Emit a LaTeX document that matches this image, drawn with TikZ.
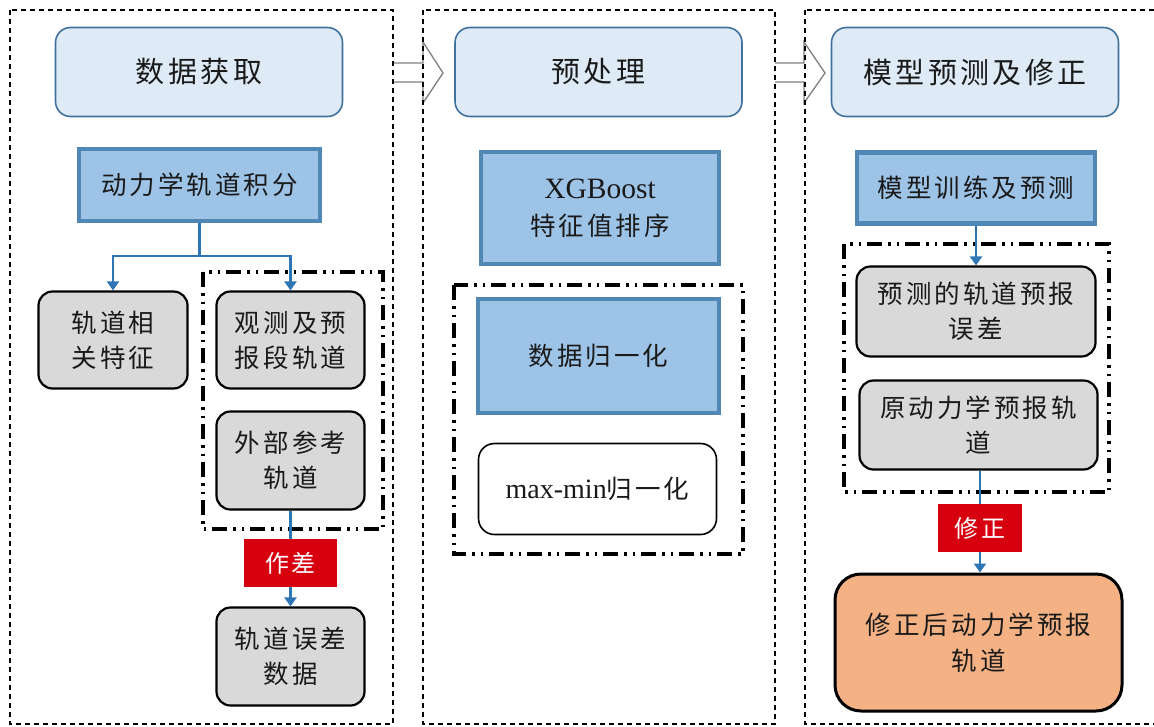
\documentclass[tikz,border=0pt]{standalone}
\usepackage{fontspec}
\newfontfamily\cjk[LetterSpace=12]{Noto Sans CJK SC}
\newfontfamily\latinserif{Liberation Serif}
\usetikzlibrary{arrows.meta}
\definecolor{titlefill}{HTML}{DEEBF7}
\definecolor{titledraw}{HTML}{41719C}
\definecolor{bluefill}{HTML}{9DC3E6}
\definecolor{bluedraw}{HTML}{5087B4}
\definecolor{grayfill}{HTML}{D9D9D9}
\definecolor{redfill}{HTML}{D7000F}
\definecolor{orangefill}{HTML}{F4B183}
\definecolor{arrowblue}{HTML}{2E75B6}
\definecolor{bigarrowcol}{HTML}{808080}
\definecolor{txt}{HTML}{1A1A1A}
\begin{document}
\begin{tikzpicture}[x=1pt,y=-1pt,
  titlebox/.style={draw=titledraw,fill=titlefill,line width=1.6pt,rounded corners=15pt,inner sep=0pt,
    minimum width=287pt,minimum height=89pt,text=txt,font=\fontsize{29}{35}\selectfont\cjk},
  bluebox/.style={draw=bluedraw,fill=bluefill,line width=4.5pt,inner sep=0pt,align=center,text=txt,
    font=\fontsize{25.5}{37}\selectfont\cjk},
  graybox/.style={draw=black,fill=grayfill,line width=2.2pt,rounded corners=14pt,inner sep=0pt,align=center,text=txt,
    font=\fontsize{25.5}{35}\selectfont\cjk},
  whitebox/.style={draw=black,fill=white,line width=1.6pt,rounded corners=16pt,inner sep=0pt,align=center,text=txt,
    font=\fontsize{28}{35}\selectfont\latinserif},
  orangebox/.style={draw=black,fill=orangefill,line width=3pt,rounded corners=26pt,inner sep=0pt,align=center,text=txt,
    font=\fontsize{25.5}{36}\selectfont\cjk},
  redbox/.style={fill=redfill,inner sep=0pt,text=white,font=\fontsize{24}{30}\selectfont\cjk},
  column/.style={draw=black,line width=1.5pt,dash pattern=on 5pt off 4pt},
  groupframe/.style={draw=black,line width=3.2pt,dash pattern=on 15pt off 6pt on 2.5pt off 6pt on 2.5pt off 6pt},
  link/.style={draw=arrowblue,line width=2.8pt},
  arr/.style={link,-{Triangle[width=12pt,length=9pt]}},
  bigarrow/.style={draw=bigarrowcol,line width=1.3pt,line join=miter}
]
\clip (0,0) rectangle (1154,726);
\fill[white] (0,0) rectangle (1154,726);

% block arrows between columns
\draw[bigarrow] (393,63) -- (423,63) -- (423,42) -- (443,73) -- (423,103) -- (423,82) -- (393,82);
\draw[bigarrow] (775,63) -- (804,63) -- (804,42) -- (825,73) -- (804,103) -- (804,82) -- (775,82);

% columns
\draw[column] (10,10) rectangle (393,724);
\draw[column] (423,10) rectangle (775,724);
\draw[column] (805,10) rectangle (1170,724);

% group frames
\draw[groupframe] (203,272) rectangle (383,529);
\draw[groupframe] (454,285) rectangle (743,554);
\draw[groupframe] (844,244) rectangle (1109,492);

% titles
\node[titlebox] (t1) at (199,72) {数据获取};
\node[titlebox] (t2) at (598.5,72) {预处理};
\node[titlebox] (t3) at (975,72) {模型预测及修正};

% column 1
\node[bluebox,minimum width=241pt,minimum height=72pt] (dyn) at (199.5,185) {动力学轨道积分};
\node[graybox,minimum width=149pt,minimum height=97pt] (g1) at (113,340) {轨道相\\关特征};
\node[graybox,minimum width=148pt,minimum height=97pt] (g2) at (290.5,340) {观测及预\\报段轨道};
\node[graybox,minimum width=148pt,minimum height=98pt] (g3) at (290.5,460.5) {外部参考\\轨道};
\node[redbox,minimum width=93pt,minimum height=48pt] (zc) at (290.5,563) {作差};
\node[graybox,minimum width=148pt,minimum height=98pt] (g4) at (290.5,656.5) {轨道误差\\数据};

\coordinate (split) at (199.5,256);
\draw[link] (dyn.south) -- (split);
\draw[arr] (split) -| (g1.north);
\draw[arr] (split) -| (g2.north);
\draw[link] (g3.south) -- (zc.north);
\draw[arr] (zc.south) -- (g4.north);

% column 2
\node[bluebox,minimum width=238pt,minimum height=112pt] (xgb) at (600,208)
  {{\latinserif\fontsize{29.5}{37}\selectfont XGBoost}\\特征值排序};
\node[bluebox,minimum width=241pt,minimum height=114pt] (norm) at (598.5,356) {数据归一化};
\node[whitebox,minimum width=238pt,minimum height=91pt] (mm) at (597.5,489) {max-min{\cjk\fontsize{25.5}{35}\selectfont 归一化}};

% column 3
\node[bluebox,minimum width=238pt,minimum height=71pt] (train) at (976,188) {模型训练及预测};
\node[graybox,minimum width=239pt,minimum height=90pt] (p1) at (976,311.5) {预测的轨道预报\\误差};
\node[graybox,minimum width=238pt,minimum height=89pt] (p2) at (978.5,425) {原动力学预报轨\\道};
\node[redbox,minimum width=84pt,minimum height=48pt] (xz) at (980,528) {修正};
\node[orangebox,minimum width=287pt,minimum height=137pt] (res) at (978.5,642.5) {修正后动力学预报\\轨道};

\draw[arr] (train.south) -- (train.south |- p1.north);
\draw[link] (p2.south -| xz.north) -- (xz.north);
\draw[arr] (xz.south) -- (xz.south |- res.north);
\end{tikzpicture}
\end{document}
